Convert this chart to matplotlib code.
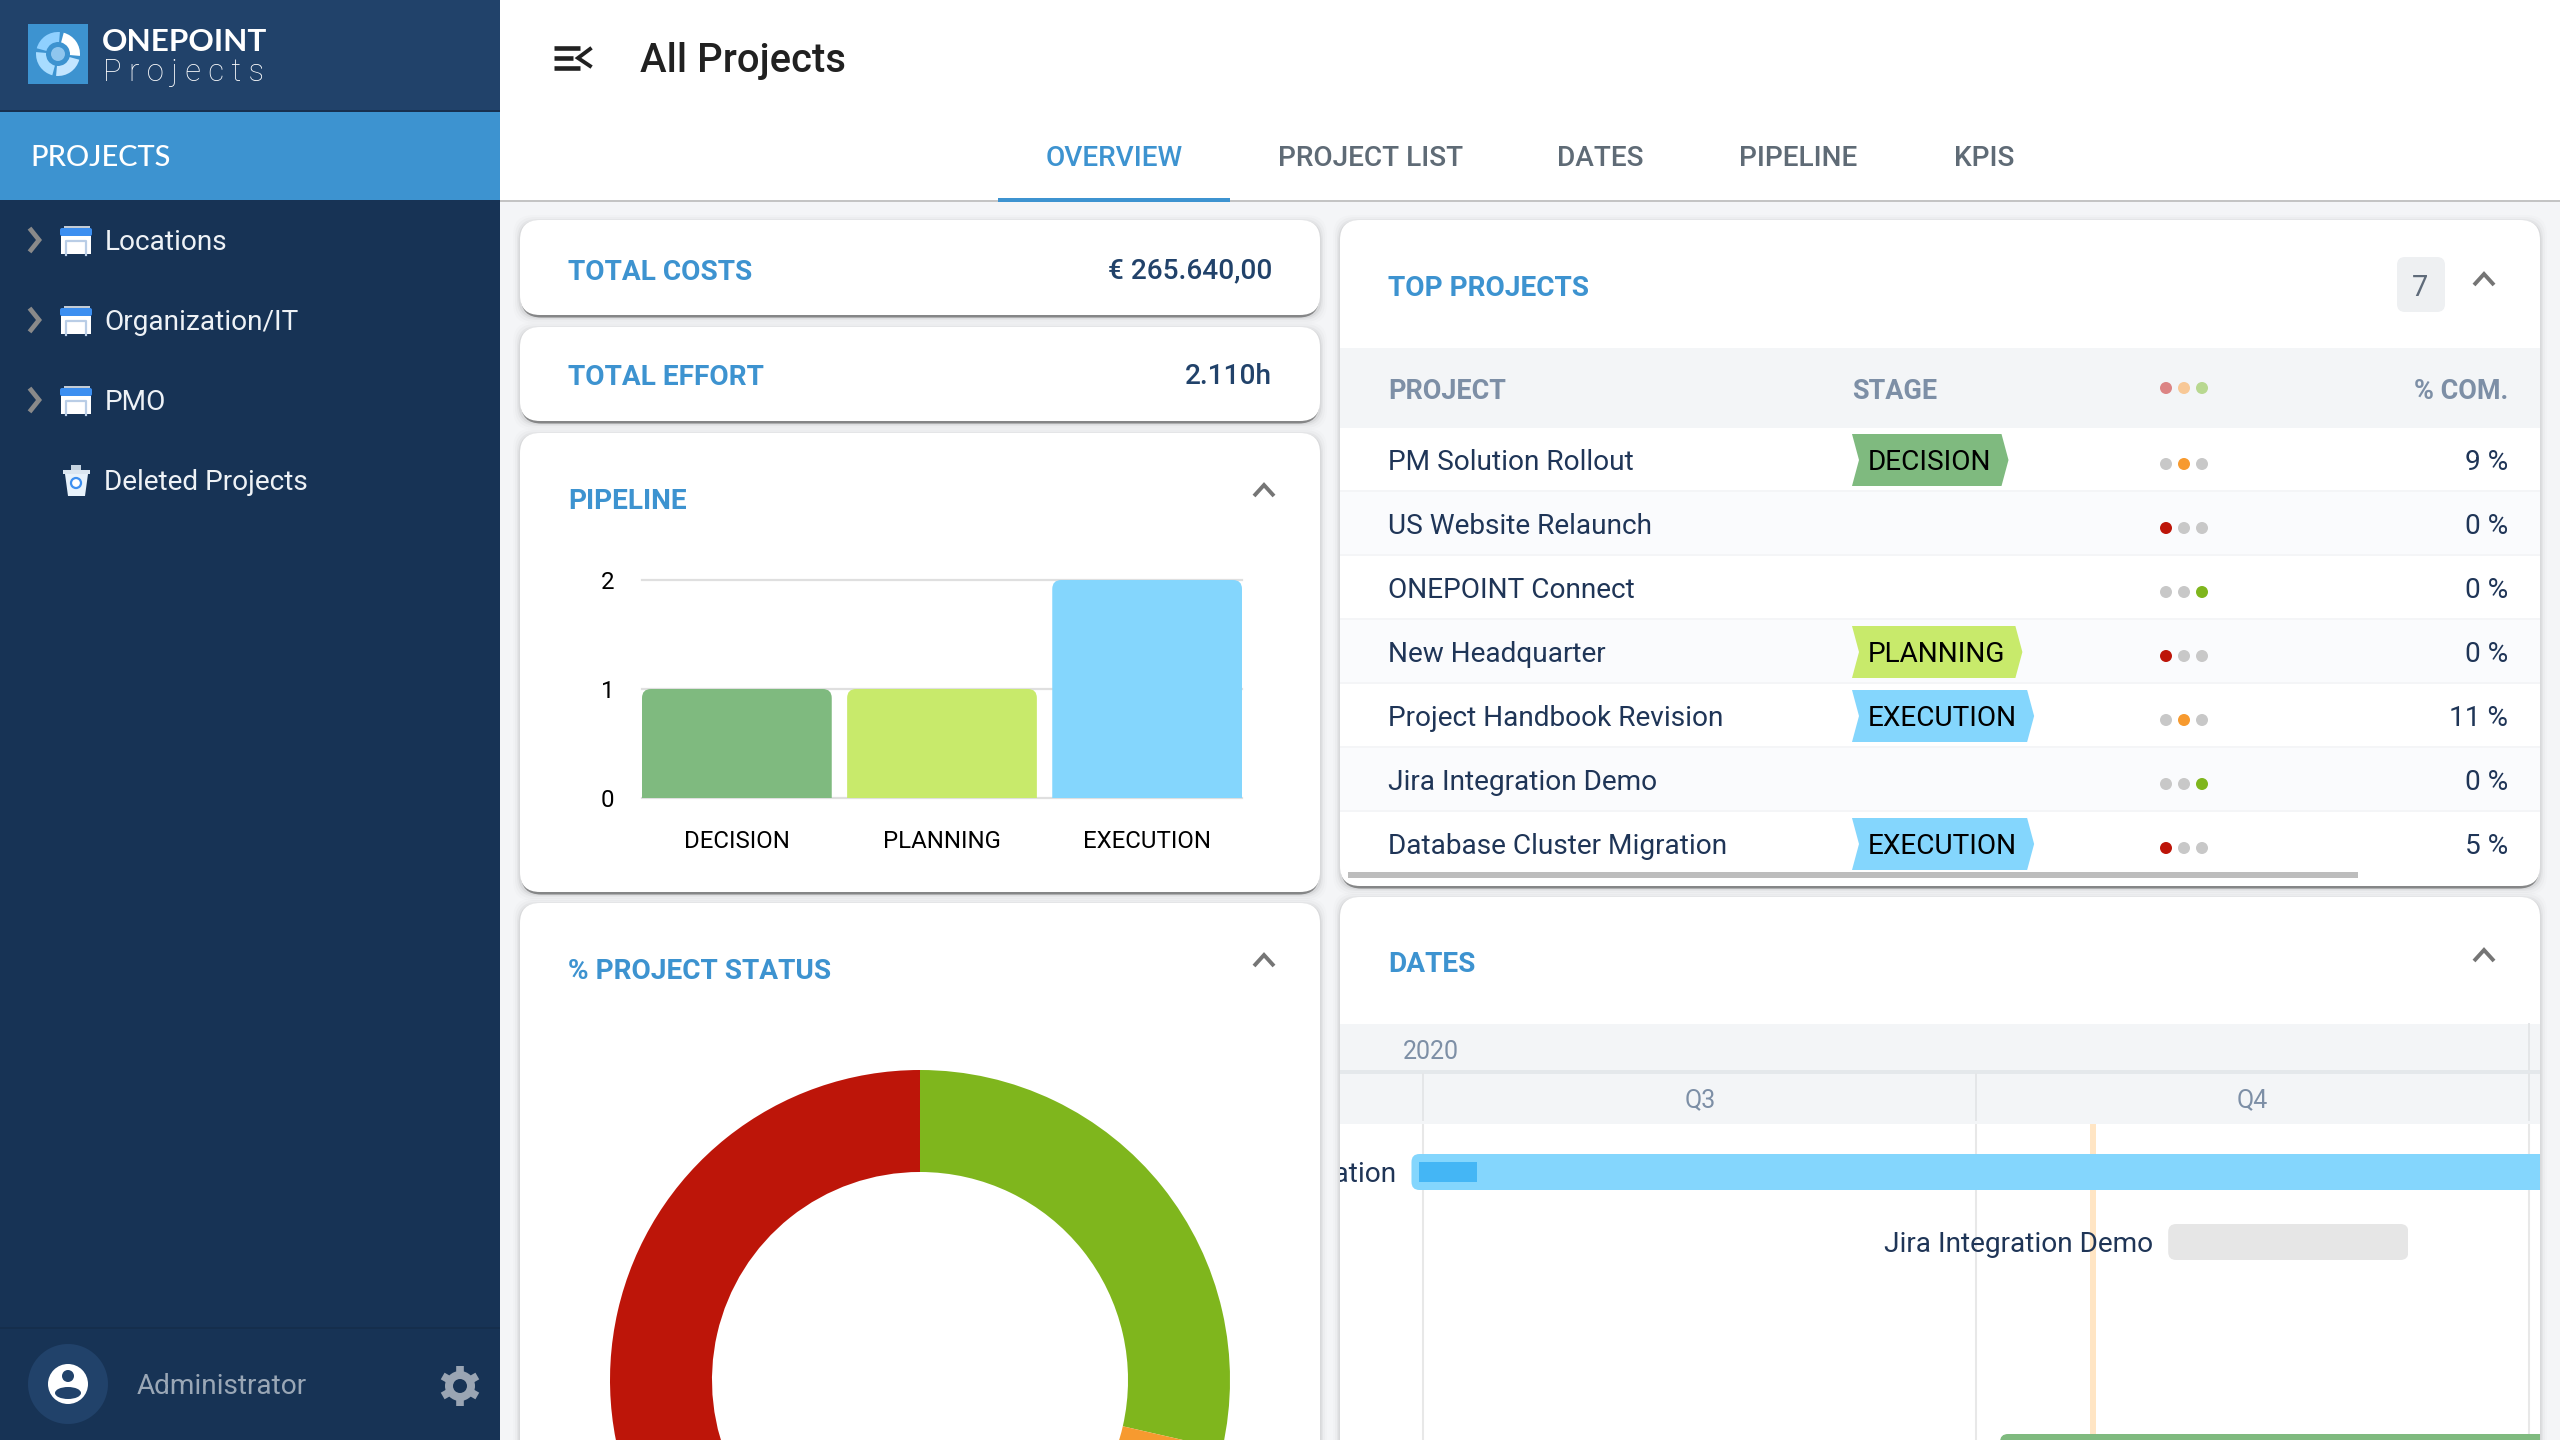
#! /usr/bin/python3

import numpy as np
import pandas as pd
import matplotlib
matplotlib.use('Agg')
import matplotlib.pyplot as plt
import matplotlib.dates as mdates
from matplotlib.patches import Rectangle, Circle, Ellipse, Polygon, Wedge, FancyBboxPatch
from matplotlib.transforms import IdentityTransform

W, H = 2560, 1440

# ---- data ----
tree_items = ['Locations', 'Organization/IT', 'PMO', 'Deleted Projects']
tab_labels = ['OVERVIEW', 'PROJECT LIST', 'DATES', 'PIPELINE', 'KPIS']

total_costs = '€ 265.640,00'
total_effort = '2.110h'

pipeline_stages = ['DECISION', 'PLANNING', 'EXECUTION']
pipeline_counts = [1, 1, 2]
pipeline_ticks = [0, 1, 2]

status_names = ['green', 'orange', 'red']
status_counts = [2, 2, 3]

projects = ['PM Solution Rollout', 'US Website Relaunch', 'ONEPOINT Connect', 'New Headquarter',
            'Project Handbook Revision', 'Jira Integration Demo', 'Database Cluster Migration']
project_stage = ['DECISION', '', '', 'PLANNING', 'EXECUTION', '', 'EXECUTION']
project_status = ['orange', 'red', 'green', 'red', 'orange', 'green', 'red']
project_complete = [9, 0, 0, 0, 11, 0, 5]

gantt_names = ['Database Cluster Migration', 'Jira Integration Demo', 'PM Solution Rollout']
gantt_rows = [0, 1, 4]
gantt_start = ['2020-06-29', '2020-11-02', '2020-10-05']
gantt_end = ['2021-06-30', '2020-12-12', '2021-06-30']
gantt_done = [5, 0, 9]
gantt_stage = ['EXECUTION', '', 'DECISION']
quarter_names = ['Q3', 'Q4']
quarter_edges = ['2020-07-01', '2020-10-01', '2021-01-01']
today = '2020-10-20 12:00'

# ---- colours ----
NAVY = '#173355'
NAVY_LIGHT = '#21426a'
BLUE = '#3d93d0'
TEXT = '#1f3557'
HEAD = '#7d8fa6'
stage_colors = {'DECISION': '#7fba7f', 'PLANNING': '#c8ea6b', 'EXECUTION': '#84d6fd', '': '#e6e6e6'}
status_colors = {'green': '#7fb61d', 'orange': '#f79a2f', 'red': '#bd1509'}
status_faded = {'red': '#dc8484', 'orange': '#f8c896', 'green': '#b8d890'}
FONT = 'Roboto'

plt.rcParams['font.family'] = FONT

fig = plt.figure(figsize=(W / 100, H / 100), dpi=100, facecolor='#f4f5f7')
bg = fig.add_axes([0, 0, 1, 1])
bg.set_xlim(0, W)
bg.set_ylim(H, 0)
bg.axis('off')


def px_axes(x0, y0, x1, y1):
    # axes placed with screen pixels, y going down
    ax = fig.add_axes([x0 / W, 1 - y1 / H, (x1 - x0) / W, (y1 - y0) / H])
    ax.patch.set_alpha(0)
    return ax


def txt(x, y, s, size, color=TEXT, ha='left', weight='normal', family=FONT, z=10, **kw):
    # y is the middle of the capitals, size is in pixels
    return bg.text(x, y + 0.355 * size, s, fontsize=size * 0.72, color=color, ha=ha, va='baseline',
                   fontweight=weight, family=family, zorder=z, **kw)


def rect(x0, y0, x1, y1, color, z=1):
    bg.add_patch(Rectangle((x0, y0), x1 - x0, y1 - y0, facecolor=color, edgecolor='none', zorder=z))


def rbox(x0, y0, x1, y1, r, color, z=1, alpha=1.0):
    bg.add_patch(FancyBboxPatch((x0, y0), x1 - x0, y1 - y0, boxstyle=f'round,pad=0,rounding_size={r}',
                                facecolor=color, edgecolor='none', zorder=z, alpha=alpha))


def card(x0, y0, x1, y1):
    for grow, alpha in [(7, 0.012), (5, 0.02), (3, 0.03), (1.5, 0.05)]:
        rbox(x0 - grow, y0 - grow + 2, x1 + grow, y1 + grow + 2, 20, 'black', z=2, alpha=alpha)
    rbox(x0 + 1, y0 + 3, x1 - 1, y1 + 2.5, 20, 'black', z=2, alpha=0.38)
    rbox(x0, y0, x1, y1, 20, 'white', z=3)


def chevron_up(x, y):
    bg.plot([x - 10, x, x + 10], [y + 6, y - 5, y + 6], color='#757575', lw=2.8, zorder=10,
            solid_capstyle='butt', solid_joinstyle='miter')


def round_bar(bar, r, flat_bottom=False):
    # clip a bar to a rounded box in screen pixels
    bb = bar.get_window_extent()
    y0 = bb.y0 - (r + 2 if flat_bottom else 0)
    clip = FancyBboxPatch((bb.x0, y0), bb.width, bb.y1 - y0, boxstyle=f'round,pad=0,rounding_size={r}',
                          transform=IdentityTransform())
    bar.set_clip_path(clip)


# ---- sidebar ----
rect(0, 0, 500, H, NAVY)
rect(0, 0, 500, 110, NAVY_LIGHT)
rect(0, 110, 500, 112, '#173050')
rect(0, 112, 500, 200, BLUE, z=2)
rect(0, 1327, 500, 1329, '#152e4c')

# logo
rect(28, 24, 88, 84, BLUE)
lx, ly = 58, 54
for t0, t1, c in [(-75, 5, 'white'), (15, 95, '#c3e5ff'), (105, 185, '#a8dcff'), (195, 275, '#8fd0ff')]:
    bg.add_patch(Wedge((lx, ly), 22, t0, t1, width=10, facecolor=c, edgecolor='none', zorder=3))
bg.add_patch(Circle((lx, ly), 7, facecolor='#8fc6ee', edgecolor='none', zorder=3))
txt(102, 40, 'ONEPOINT', 31.5, 'white', weight='bold', family='Lato')
txt(103, 70, 'P r o j e c t s', 31, 'white', weight='light')

txt(30, 156, 'PROJECTS', 29, 'white', family='Lato', weight='medium')

for i, item in enumerate(tree_items):
    cy = 240 + 80 * i
    txt(104.5, cy, item, 28, '#eef2f6')
    if i < 3:
        bg.plot([31, 39, 31], [cy - 10, cy, cy + 10], color='#8a8a8a', lw=3.4, zorder=5, solid_joinstyle='miter')
        rect(64, cy - 14, 90, cy - 11, '#c5ccd4', z=4)
        rbox(60, cy - 12, 92, cy - 4, 2, '#3d8ff0', z=5)
        rect(61, cy - 4, 91, cy + 14, 'white', z=5)
        bg.plot([66, 66, 86, 86], [cy + 15, cy + 1, cy + 1, cy + 15], color='#b9cde6', lw=1.6, zorder=6)
    else:
        rect(71, cy - 15, 81, cy - 10, '#c5d3e0', z=4)
        rect(63, cy - 10, 90, cy - 6, '#dce6f0', z=5)
        bg.add_patch(Polygon([(65, cy - 6), (88, cy - 6), (85, cy + 16), (68, cy + 16)],
                             facecolor='#e8f2fb', edgecolor='none', zorder=5))
        bg.add_patch(Circle((76, cy + 3), 5, facecolor='white', edgecolor='#3d8ff0', lw=1.6, zorder=6))

# user row
bg.add_patch(Circle((68, 1384), 40, facecolor=NAVY_LIGHT, edgecolor='none', zorder=3))
bg.add_patch(Circle((68, 1384), 20, facecolor='white', edgecolor='none', zorder=4))
bg.add_patch(Circle((68, 1376), 6, facecolor=NAVY_LIGHT, edgecolor='none', zorder=5))
bg.add_patch(Ellipse((68, 1393), 26, 12, facecolor=NAVY_LIGHT, edgecolor='none', zorder=5))
txt(137, 1384, 'Administrator', 28, '#9aa7b6')
for a in np.deg2rad([30, 90, 150]):
    dx, dy = 20 * np.cos(a), 20 * np.sin(a)
    bg.plot([460 - dx, 460 + dx], [1386 - dy, 1386 + dy], color='#9aa5b3', lw=5.5, zorder=4, solid_capstyle='butt')
bg.add_patch(Circle((460, 1386), 15, facecolor='#9aa5b3', edgecolor='none', zorder=4))
bg.add_patch(Circle((460, 1386), 7, facecolor=NAVY, edgecolor='none', zorder=5))

# ---- top bar ----
rect(500, 0, W, 200, 'white')
rect(500, 200, W, 202, '#c4c4c4')
for y, x1 in [(48, 580), (58, 573), (68, 580)]:
    bg.plot([554, x1], [y, y], color='#212121', lw=3.3, zorder=5, solid_capstyle='butt')
bg.plot([590, 578, 590], [49, 58, 66], color='#212121', lw=2.8, zorder=5, solid_joinstyle='miter')
txt(640, 58, 'All Projects', 40, '#212121', weight='medium')

tab_centers = [1114, 1370.5, 1600.5, 1798, 1984]
for i, (tab, cx) in enumerate(zip(tab_labels, tab_centers)):
    txt(cx, 156, tab, 28, BLUE if i == 0 else '#5f6b76', ha='center', weight='medium')
rect(998, 198, 1230, 202, BLUE, z=5)

# ---- small cards ----
card(520, 220, 1320, 315)
txt(568, 270, 'TOTAL COSTS', 28, BLUE, weight='bold')
txt(1272, 268, total_costs, 28, NAVY_LIGHT, ha='right', weight='medium')
card(520, 327, 1320, 421)
txt(568, 375, 'TOTAL EFFORT', 28, BLUE, weight='bold')
txt(1272, 374, total_effort, 28, NAVY_LIGHT, ha='right', weight='medium')

# ---- pipeline card ----
card(520, 433, 1320, 892)
txt(568, 499, 'PIPELINE', 28, BLUE, weight='bold')
chevron_up(1264, 490)

ax_pipe = px_axes(642, 580, 1242, 798)
bars = ax_pipe.bar(range(len(pipeline_stages)), pipeline_counts, width=0.925,
                   color=[stage_colors[s] for s in pipeline_stages], zorder=3)
ax_pipe.set_xlim(-0.4625, 2.4625)
ax_pipe.set_ylim(0, 2)
ax_pipe.set_yticks(pipeline_ticks)
ax_pipe.set_xticks(range(len(pipeline_stages)), pipeline_stages)
ax_pipe.tick_params(axis='y', length=0, pad=20, labelsize=24 * 0.72, labelcolor='black')
ax_pipe.tick_params(axis='x', length=0, pad=23, labelsize=24 * 0.72, labelcolor='black')
ax_pipe.grid(True, axis='y', color='#dfdfdf', lw=1.6, zorder=0, clip_on=False)
for gl in ax_pipe.get_ygridlines():
    gl.set_clip_on(False)
ax_pipe.set_axisbelow(True)
for spine in ax_pipe.spines.values():
    spine.set_visible(False)
for bar in bars:
    round_bar(bar, 9, flat_bottom=True)

# ---- status card ----
card(520, 903, 1320, H + 40)
txt(568, 969, '% PROJECT STATUS', 28, BLUE, weight='bold')
chevron_up(1264, 960)

ax_donut = px_axes(610, 1070, 1230, 1690)
ax_donut.pie(status_counts, colors=[status_colors[s] for s in status_names], startangle=90, counterclock=False,
             radius=1, wedgeprops={'width': 0.329, 'linewidth': 0})
ax_donut.set_xlim(-1, 1)
ax_donut.set_ylim(-1, 1)

# ---- top projects card ----
card(1340, 220, 2540, 886)
txt(1388, 286, 'TOP PROJECTS', 28, BLUE, weight='bold')
rbox(2397, 257, 2445, 312, 8, '#eef0f2', z=4)
txt(2420, 286, str(len(projects)), 29, '#5f6b7a', ha='center')
chevron_up(2484, 279)

rect(1340, 348, 2540, 428, '#f3f5f7', z=4)
txt(1388, 389, 'PROJECT', 27, HEAD, weight='bold')
txt(1852, 389, 'STAGE', 27, HEAD, weight='bold')
txt(2508, 389, '% COM.', 27, HEAD, ha='right', weight='bold')
dot_x = [2166, 2184, 2202]
dot_order = ['red', 'orange', 'green']
for dx, name in zip(dot_x, dot_order):
    bg.add_patch(Circle((dx, 388), 6, facecolor=status_faded[name], edgecolor='none', zorder=6))

renderer = fig.canvas.get_renderer()
for i, name in enumerate(projects):
    top = 428 + 64 * i
    cy = 460 + 64 * i
    if i % 2 == 1:
        rect(1340, top, 2540, top + 64, '#fafbfd', z=4)
    if i < len(projects) - 1:
        rect(1340, top + 62, 2540, top + 64, '#f4f5f7', z=5)
    txt(1388, cy, name, 28)
    stage = project_stage[i]
    if stage:
        t = txt(1868, cy, stage, 28, 'black')
        right = t.get_window_extent(renderer).x1 + 10
        bg.add_patch(Polygon([(1852, cy - 26), (right, cy - 26), (right + 7, cy), (right, cy + 26), (1852, cy + 26),
                              (1859, cy)], facecolor=stage_colors[stage], edgecolor='none', zorder=6))
    for dx, dname in zip(dot_x, dot_order):
        c = status_colors[dname] if project_status[i] == dname else '#c8c8c8'
        bg.add_patch(Circle((dx, cy + 4), 6, facecolor=c, edgecolor='none', zorder=6))
    txt(2508, cy, f'{project_complete[i]} %', 28, ha='right')
rect(1348, 872, 2358, 878, '#bdbdbd', z=7)

# ---- dates card ----
card(1340, 897, 2540, H + 40)
txt(1388, 962, 'DATES', 28, BLUE, weight='bold')
chevron_up(2484, 955)
rect(1340, 1024, 2540, 1124, '#f3f5f7', z=4)
rect(1340, 1070, 2540, 1074, '#e4e8eb', z=5)
txt(1403, 1050, '2020', 25, HEAD)

ax_gantt = px_axes(1340, 1124, 2540, H)
edges = mdates.date2num(pd.to_datetime(quarter_edges))
starts = mdates.date2num(pd.to_datetime(gantt_start))
ends = mdates.date2num(pd.to_datetime(gantt_end))
px_per_day = (1975 - 1422.5) / (edges[1] - edges[0])
ax_gantt.set_xlim(edges[0] - 83.5 / px_per_day, edges[0] + 1116.5 / px_per_day)
ax_gantt.set_ylim((H - 1172) / 70, (1124 - 1172) / 70)
ax_gantt.axis('off')
trans = ax_gantt.get_xaxis_transform()


def head_y(y):
    return (H - y) / (H - 1124)


for e in edges:
    ax_gantt.axvline(e, color='#e8e8e8', lw=1.5, zorder=1)
    ax_gantt.plot([e, e], [head_y(1074), head_y(1120)], transform=trans, color='#e4e6e8', lw=1.4,
                  clip_on=False, zorder=1)
ax_gantt.plot([edges[2], edges[2]], [head_y(1024), head_y(1070)], transform=trans, color='#e4e6e8', lw=1.4,
              clip_on=False, zorder=1)
for j, q in enumerate(quarter_names):
    ax_gantt.text((edges[j] + edges[j + 1]) / 2, head_y(1100), q, transform=trans, ha='center', va='center',
                  fontsize=25 * 0.72, color=HEAD, clip_on=False)
ax_gantt.axvline(mdates.date2num(pd.to_datetime(today)), color='#ffe5c4', lw=4.3, zorder=2)

for name, row, s, e, done, stage in zip(gantt_names, gantt_rows, starts, ends, gantt_done, gantt_stage):
    b = ax_gantt.barh(row, e - s, left=s, height=36 / 70, color=stage_colors[stage], zorder=3)[0]
    round_bar(b, 8)
    ax_gantt.annotate(name, (s, row), xytext=(-15 * 0.72, 0), textcoords='offset points', ha='right',
                      va='center_baseline', fontsize=28 * 0.72, color=TEXT, clip_on=True, zorder=5)
    if done:
        # inner progress bar, 8 px inset from the top and bottom
        ax_gantt.barh(row, 58 / px_per_day, left=s + 8 / px_per_day, height=20 / 70, color='#44b6f5', zorder=4)

fig.savefig('out.png', dpi=100, facecolor=fig.get_facecolor())
